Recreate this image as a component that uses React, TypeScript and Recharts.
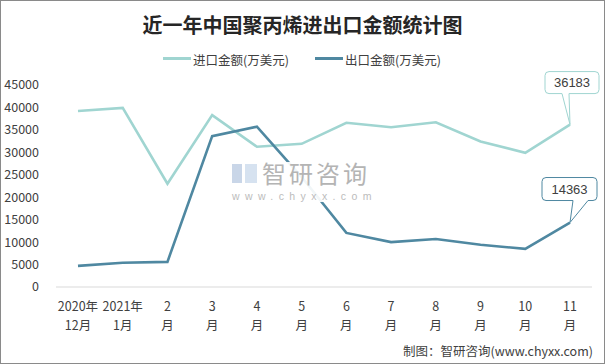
import React from "react";
import { LineChart, Line, XAxis, YAxis } from "recharts";

const categories = ["2020年\n12月", "2021年\n1月", "2\n月", "3\n月", "4\n月", "5\n月", "6\n月", "7\n月", "8\n月", "9\n月", "10\n月", "11\n月"];
const importValues = [39200, 39900, 23000, 38300, 31250, 31900, 36600, 35600, 36700, 32400, 29900, 36183];
const exportValues = [4700, 5400, 5600, 33600, 35700, 24500, 12050, 10000, 10700, 9400, 8500, 14363];
const yTicks = [0, 5000, 10000, 15000, 20000, 25000, 30000, 35000, 40000, 45000];
const seriesNames = ["进口金额(万美元)", "出口金额(万美元)"];

const IMPORT_COLOR = "#a0d5d1";
const EXPORT_COLOR = "#4f88a1";
const FONT = "'Noto Sans CJK SC', 'Noto Sans', sans-serif";
const TEXT = "#404040";

const data = categories.map((c, i) => ({ cat: c, imp: importValues[i], exp: exportValues[i] }));

const XTick = (props: any) => {
  const { x, y, payload } = props;
  const [a, b] = String(payload.value).split("\n");
  return (
    <text x={x} y={y} textAnchor="middle" fill={TEXT} fontSize={12.5} fontFamily={FONT}>
      <tspan x={x} dy={16}>{a}</tspan>
      <tspan x={x} dy={19}>{b}</tspan>
    </text>
  );
};

function callout(color: string, bx0: number, bx1: number, by0: number, by1: number, w0: number, w1: number) {
  return (props: any) => {
    const { x, y, value, index } = props;
    if (index !== importValues.length - 1) return null;
    const r = 4;
    const L = x + bx0, R = x + bx1, T = y + by0, B = y + by1;
    const W0 = x + w0, W1 = x + w1;
    const d = `M ${L + r} ${T} H ${R - r} Q ${R} ${T} ${R} ${T + r} V ${B - r} Q ${R} ${B} ${R - r} ${B} H ${W1} L ${x} ${y} L ${W0} ${B} H ${L + r} Q ${L} ${B} ${L} ${B - r} V ${T + r} Q ${L} ${T} ${L + r} ${T} Z`;
    return (
      <g>
        <path d={d} fill="#fff" stroke={color} strokeWidth={1} />
        <text x={(L + R) / 2} y={(T + B) / 2 + 4.5} textAnchor="middle" fill={TEXT} fontSize={13} fontFamily="'Liberation Sans', sans-serif">{value}</text>
      </g>
    );
  };
}

const LegendBar = () => (
  <div style={{ position: "absolute", left: 0, top: 50, width: 605, height: 16, fontFamily: FONT, fontSize: 12.5, color: TEXT }}>
    <div style={{ position: "absolute", left: 163, top: 7, width: 28, height: 3, background: IMPORT_COLOR }} />
    <div style={{ position: "absolute", left: 193, top: 0, whiteSpace: "nowrap" }}>{seriesNames[0]}</div>
    <div style={{ position: "absolute", left: 315, top: 7, width: 28, height: 3, background: EXPORT_COLOR }} />
    <div style={{ position: "absolute", left: 345, top: 0, whiteSpace: "nowrap" }}>{seriesNames[1]}</div>
  </div>
);

export default function App() {
  return (
    <div style={{ position: "absolute", left: 0, top: 0, width: 605, height: 364, background: "#fff", overflow: "hidden" }}>
      <div style={{ position: "absolute", left: 0, top: 10, width: 605, textAlign: "center", fontFamily: FONT, fontWeight: 700, fontSize: 20, color: "#262626" }}>
        近一年中国聚丙烯进出口金额统计图
      </div>
      <LegendBar />
      <div style={{ position: "absolute", left: 0, top: 0 }}>
        <LineChart width={605} height={364} data={data} margin={{ top: 85, right: 13, left: 0, bottom: 27 }}>
          <XAxis dataKey="cat" interval={0} tickLine={false} axisLine={{ stroke: "#d9d9d9" }} tick={<XTick />} height={50} padding={{ left: 22, right: 22 }} />
          <YAxis domain={[0, 45000]} ticks={yTicks} width={56} axisLine={false} tickLine={false} tickMargin={11}
            tick={{ fill: TEXT, fontSize: 12.5, fontFamily: FONT }} />
          <Line dataKey="imp" stroke={IMPORT_COLOR} strokeWidth={2.6} dot={false} isAnimationActive={false}
            label={callout(IMPORT_COLOR, -25, 29, -53, -31, -8, -1)} />
          <Line dataKey="exp" stroke={EXPORT_COLOR} strokeWidth={2.6} dot={false} isAnimationActive={false}
            label={callout(EXPORT_COLOR, -28, 27, -45, -22, 3, 18)} />
        </LineChart>
      </div>
      {/* watermark */}
      <div style={{ position: "absolute", left: 229, top: 162, width: 146, height: 40, background: "rgba(255,255,255,0.92)" }} />
      <div style={{ position: "absolute", left: 232, top: 164, width: 10, height: 19, background: "#c9d6e8" }} />
      <div style={{ position: "absolute", left: 245, top: 164, width: 12, height: 19, background: "#d6e2f0" }} />
      <div style={{ position: "absolute", left: 262, top: 161, fontFamily: FONT, fontSize: 24, lineHeight: "24px", color: "#b4b4b4", whiteSpace: "nowrap", letterSpacing: 3 }}>智研咨询</div>
      <div style={{ position: "absolute", left: 232, top: 191, fontFamily: "'Liberation Sans', sans-serif", fontSize: 10.5, lineHeight: "11px", color: "#bcbcbc", whiteSpace: "nowrap", letterSpacing: 5.4 }}>www.chyxx.com</div>
      <div style={{ position: "absolute", right: 12, top: 341, fontFamily: FONT, fontSize: 12.5, color: TEXT, whiteSpace: "nowrap" }}>
        制图：智研咨询(www.chyxx.com)
      </div>
      <div style={{ position: "absolute", left: 0, top: 0, width: 605, height: 364, boxSizing: "border-box", border: "1px solid #8a8a8a", pointerEvents: "none" }} />
    </div>
  );
}
